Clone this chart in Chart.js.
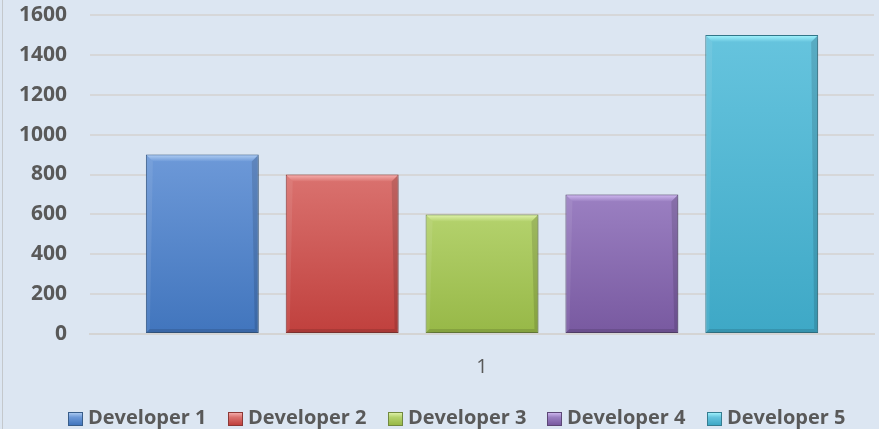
<!DOCTYPE html>
<html>
<head>
<meta charset="utf-8">
<script src="https://cdn.jsdelivr.net/npm/chart.js@4/dist/chart.umd.min.js"></script>
<style>
  html, body { margin: 0; padding: 0; background: #dce6f2; }
  #wrap { position: relative; width: 879px; height: 429px; background: #dce6f2; }
  canvas { display: block; }
  #edge { position: absolute; left: 2px; top: 0; width: 1px; height: 429px; background: #c4c8cc; }
  #legend { position: absolute; left: 0; top: 408px; width: 879px; height: 20px; font: bold 20px "Open Sans", sans-serif; color: #595959; }
  .item { position: absolute; top: 0; height: 20px; line-height: 20px; white-space: nowrap; }
  .box { position: absolute; top: 4px; left: 0; width: 15px; height: 14px; box-sizing: border-box; }
  .lbl { position: absolute; left: 20px; top: -1px; }
</style>
</head>
<body>
<div id="wrap">
  <canvas id="chart" width="879" height="429"></canvas>
  <div id="edge"></div>
  <div id="legend"></div>
</div>
<script>
// 데이터
const categories = ['1'];
const seriesNames = ['Developer 1', 'Developer 2', 'Developer 3', 'Developer 4', 'Developer 5'];
const developer1 = [900];
const developer2 = [800];
const developer3 = [600];
const developer4 = [700];
const developer5 = [1500];
const yMin = 0;
const yMax = 1600;
const yStep = 200;

// 색상 (위쪽 밝은색, 아래쪽 어두운색, 테두리)
const palette = [
  { top: '#6d99d8', bottom: '#4175bd', edge: '#385d8a', shine: '#a9c8f0' },
  { top: '#da726f', bottom: '#c0403d', edge: '#8c3836', shine: '#f3aaa8' },
  { top: '#b4d26d', bottom: '#97b847', edge: '#71893f', shine: '#dcf0a6' },
  { top: '#9b80c2', bottom: '#7859a0', edge: '#5c4776', shine: '#cbb4ec' },
  { top: '#66c4de', bottom: '#3ea8c6', edge: '#357d91', shine: '#9df0fb' }
];
const seriesValues = [developer1, developer2, developer3, developer4, developer5];

// 막대마다 세로 그라데이션
function barFill(i) {
  return function(context) {
    const chart = context.chart;
    const scale = chart.scales.y;
    if (!scale || context.type !== 'data') return palette[i].bottom;
    const top = scale.getPixelForValue(context.raw);
    const bottom = scale.getPixelForValue(0);
    if (!isFinite(top) || !isFinite(bottom) || top === bottom) return palette[i].bottom;
    const g = chart.ctx.createLinearGradient(0, top, 0, bottom);
    g.addColorStop(0, palette[i].top);
    g.addColorStop(1, palette[i].bottom);
    return g;
  };
}

const datasets = seriesNames.map(function(name, i) {
  return {
    label: name,
    data: seriesValues[i],
    backgroundColor: barFill(i),
    borderColor: palette[i].edge,
    borderWidth: 1,
    borderSkipped: false,
    categoryPercentage: 0.892,
    barPercentage: 0.807
  };
});

// 막대 그림자 + 위쪽 비스듬한 하이라이트
const bevelPlugin = {
  id: 'bevel',
  beforeDatasetDraw: function(chart) {
    const ctx = chart.ctx;
    ctx.save();
    ctx.shadowColor = 'rgba(0,0,0,0.28)';
    ctx.shadowBlur = 5;
    ctx.shadowOffsetX = 2;
    ctx.shadowOffsetY = 1;
  },
  afterDatasetDraw: function(chart, args) {
    const ctx = chart.ctx;
    ctx.restore();
    const i = args.index;
    chart.getDatasetMeta(i).data.forEach(function(bar) {
      const left = bar.x - bar.width / 2 + 1;
      const right = bar.x + bar.width / 2 - 1;
      const top = bar.y + 1;
      const bottom = bar.base - 1;
      const d = 6;
      ctx.save();
      // 위쪽 면
      const g = ctx.createLinearGradient(0, top, 0, top + d);
      g.addColorStop(0, palette[i].shine);
      g.addColorStop(1, palette[i].top);
      ctx.fillStyle = g;
      ctx.beginPath();
      ctx.moveTo(left, top);
      ctx.lineTo(right, top);
      ctx.lineTo(right - d, top + d);
      ctx.lineTo(left + d, top + d);
      ctx.closePath();
      ctx.fill();
      // 오른쪽 면
      ctx.fillStyle = 'rgba(0,0,0,0.12)';
      ctx.beginPath();
      ctx.moveTo(right, top);
      ctx.lineTo(right, bottom);
      ctx.lineTo(right - 3, bottom - 3);
      ctx.lineTo(right - d, top + d);
      ctx.closePath();
      ctx.fill();
      // 왼쪽 면
      ctx.fillStyle = 'rgba(255,255,255,0.08)';
      ctx.beginPath();
      ctx.moveTo(left, top);
      ctx.lineTo(left + d, top + d);
      ctx.lineTo(left + 3, bottom - 3);
      ctx.lineTo(left, bottom);
      ctx.closePath();
      ctx.fill();
      // 아래쪽 면
      ctx.fillStyle = 'rgba(0,0,0,0.12)';
      ctx.beginPath();
      ctx.moveTo(left, bottom);
      ctx.lineTo(left + 3, bottom - 3);
      ctx.lineTo(right - 3, bottom - 3);
      ctx.lineTo(right, bottom);
      ctx.closePath();
      ctx.fill();
      ctx.restore();
    });
  }
};

const chart = new Chart(document.getElementById('chart').getContext('2d'), {
  type: 'bar',
  data: { labels: categories, datasets: datasets },
  plugins: [bevelPlugin],
  options: {
    responsive: false,
    animation: false,
    layout: { padding: { left: 19, right: 5, top: 15, bottom: 29 } },
    plugins: {
      legend: { display: false },
      tooltip: { enabled: false }
    },
    scales: {
      x: {
        grid: { display: false, drawTicks: false },
        border: { display: true, color: '#d4d4d4', width: 2 },
        ticks: {
          padding: 21,
          color: '#595959',
          font: { family: 'Open Sans', size: 20 }
        }
      },
      y: {
        min: yMin,
        max: yMax,
        border: { display: false },
        // 눈금 표시선은 투명하게, 라벨과 격자 사이 간격으로만 사용
        grid: { color: '#d6d7d9', lineWidth: 2, drawTicks: true, tickLength: 23, tickColor: 'rgba(0,0,0,0)' },
        ticks: {
          stepSize: yStep,
          padding: 0,
          color: '#595959',
          font: { family: 'Open Sans', size: 21, weight: 'bold' },
          callback: function(value) { return String(value); }
        }
      }
    }
  }
});

// 범례 (HTML)
const legendX = [68, 228, 388, 547, 707];
const legendEl = document.getElementById('legend');
seriesNames.forEach(function(name, i) {
  const item = document.createElement('div');
  item.className = 'item';
  item.style.left = legendX[i] + 'px';
  const box = document.createElement('div');
  box.className = 'box';
  box.style.background = 'linear-gradient(to bottom, ' + palette[i].shine + ' 0%, ' + palette[i].top + ' 35%, ' + palette[i].bottom + ' 100%)';
  box.style.border = '1px solid ' + palette[i].edge;
  const lbl = document.createElement('span');
  lbl.className = 'lbl';
  lbl.textContent = name;
  item.appendChild(box);
  item.appendChild(lbl);
  legendEl.appendChild(item);
});
</script>
</body>
</html>
